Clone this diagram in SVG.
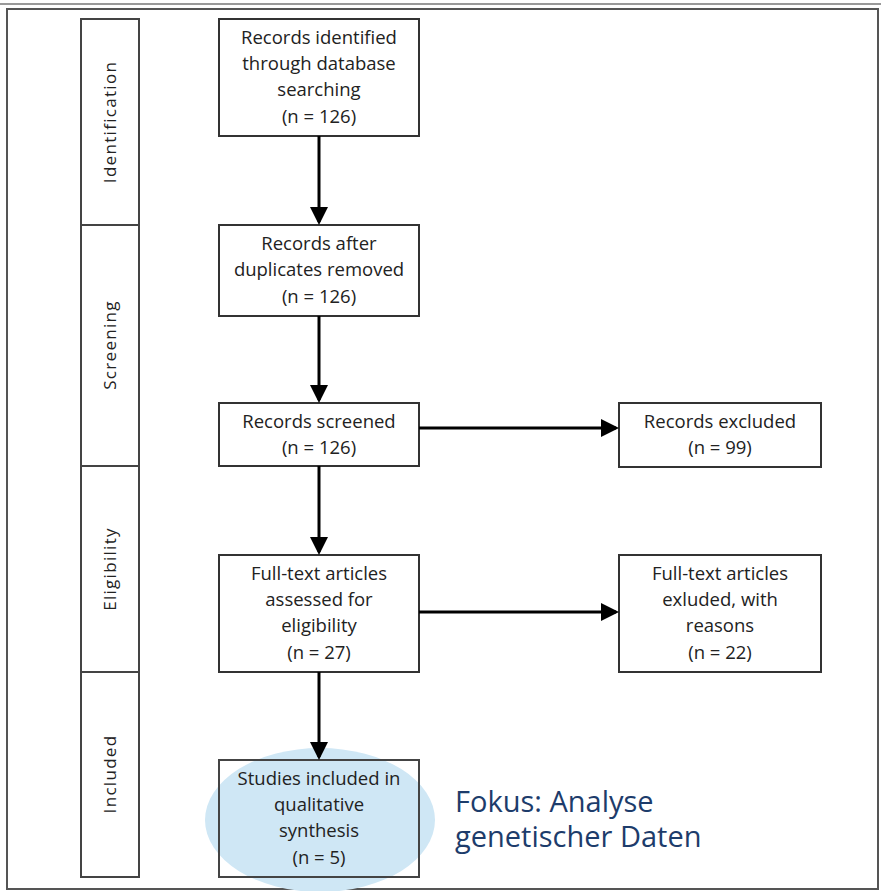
<svg xmlns="http://www.w3.org/2000/svg" width="881" height="891" viewBox="0 0 881 891">
<style>
.bx{fill:#fff;stroke:#333;stroke-width:2}
.ph{fill:#fff;stroke:#444;stroke-width:2}
.t{font-family:"Open Sans",sans-serif;font-size:18.5px;fill:#222;text-anchor:middle}
.pt{font-family:"Open Sans",sans-serif;font-size:17px;fill:#222;text-anchor:middle;letter-spacing:1.3px}
.ar{stroke:#000;stroke-width:3;fill:none;marker-end:url(#ah)}
.ft{font-family:"Open Sans",sans-serif;font-size:29px;fill:#1d3c6b}
</style>
<defs>
<marker id="ah" markerWidth="6" markerHeight="6" refX="5" refY="3" orient="auto" markerUnits="strokeWidth">
<path d="M0,0 L6,3 L0,6 z" fill="#000"/>
</marker>
</defs>
<rect width="881" height="891" fill="#fff"/>
<g id="frame">
<line x1="0" y1="4" x2="881" y2="4" stroke="#999" stroke-width="2"/>
<rect x="7" y="9" width="871" height="880" fill="none" stroke="#555" stroke-width="2"/>
</g>
<g id="phases">
<g id="ph-identification"><rect class="ph" x="81" y="19" width="58" height="206"/><text class="pt" transform="translate(116,122) rotate(-90)">Identification</text></g>
<g id="ph-screening"><rect class="ph" x="81" y="225" width="58" height="241"/><text class="pt" transform="translate(116,345) rotate(-90)">Screening</text></g>
<g id="ph-eligibility"><rect class="ph" x="81" y="466" width="58" height="206"/><text class="pt" transform="translate(116,569) rotate(-90)">Eligibility</text></g>
<g id="ph-included"><rect class="ph" x="81" y="672" width="58" height="205"/><text class="pt" transform="translate(116,774) rotate(-90)">Included</text></g>
</g>
<ellipse id="highlight" cx="320" cy="820" rx="115" ry="72" fill="#cfe7f5"/>
<g id="n1"><rect class="bx" x="219" y="19" width="200" height="117"/>
<text class="t" x="319" y="44">Records identified</text><text class="t" x="319" y="70">through database</text><text class="t" x="319" y="96">searching</text><text class="t" x="319" y="123">(n = 126)</text></g>
<g id="n2"><rect class="bx" x="219" y="225" width="200" height="91"/>
<text class="t" x="319" y="250">Records after</text><text class="t" x="319" y="276">duplicates removed</text><text class="t" x="319" y="303">(n = 126)</text></g>
<g id="n3"><rect class="bx" x="219" y="403" width="200" height="63"/>
<text class="t" x="319" y="428">Records screened</text><text class="t" x="319" y="454">(n = 126)</text></g>
<g id="n4"><rect class="bx" x="619" y="403" width="202" height="64"/>
<text class="t" x="720" y="428">Records excluded</text><text class="t" x="720" y="454">(n = 99)</text></g>
<g id="n5"><rect class="bx" x="219" y="555" width="200" height="117"/>
<text class="t" x="319" y="580">Full-text articles</text><text class="t" x="319" y="606">assessed for</text><text class="t" x="319" y="632">eligibility</text><text class="t" x="319" y="659">(n = 27)</text></g>
<g id="n6"><rect class="bx" x="619" y="555" width="202" height="117"/>
<text class="t" x="720" y="580">Full-text articles</text><text class="t" x="720" y="606">exluded, with</text><text class="t" x="720" y="632">reasons</text><text class="t" x="720" y="659">(n = 22)</text></g>
<g id="n7"><rect x="219" y="760" width="200" height="117" fill="none" stroke="#444" stroke-width="2"/>
<text class="t" x="319" y="785">Studies included in</text><text class="t" x="319" y="811">qualitative</text><text class="t" x="319" y="837">synthesis</text><text class="t" x="319" y="864">(n = 5)</text></g>
<g id="connectors">
<line class="ar" x1="319" y1="136" x2="319" y2="222"/>
<line class="ar" x1="319" y1="316" x2="319" y2="400"/>
<line class="ar" x1="319" y1="466" x2="319" y2="552"/>
<line class="ar" x1="319" y1="672" x2="319" y2="757"/>
<line class="ar" x1="419" y1="428" x2="616" y2="428"/>
<line class="ar" x1="419" y1="612" x2="616" y2="612"/>
</g>
<g id="note"><text class="ft" x="455" y="812">Fokus: Analyse</text><text class="ft" x="455" y="847">genetischer Daten</text></g>
</svg>
